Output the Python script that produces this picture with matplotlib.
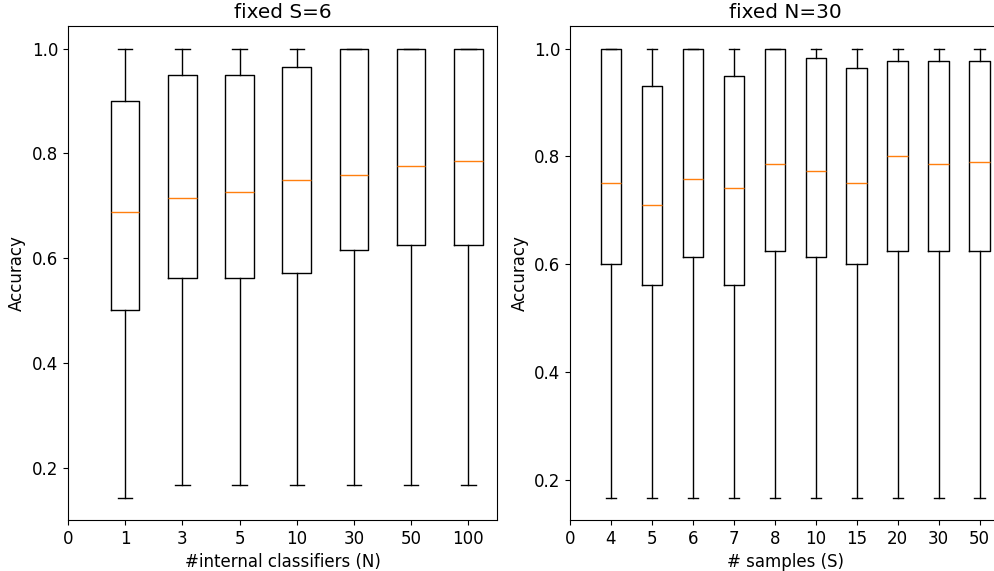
import matplotlib
matplotlib.use("Agg")
import matplotlib.pyplot as plt

# accuracy summary per setting (whisker low, q1, median, q3, whisker high)
n_labels = ['1', '3', '5', '10', '30', '50', '100']
n_whislo = [1/7, 1/6, 1/6, 1/6, 1/6, 1/6, 1/6]
n_q1 = [0.5, 0.5625, 0.5625, 0.572, 0.6146, 0.625, 0.625]
n_med = [0.688, 0.714, 0.727, 0.75, 0.758, 0.775, 0.786]
n_q3 = [0.9, 0.95, 0.95, 0.964, 1.0, 1.0, 1.0]
n_whishi = [1.0, 1.0, 1.0, 1.0, 1.0, 1.0, 1.0]

s_labels = ['4', '5', '6', '7', '8', '10', '15', '20', '30', '50']
s_whislo = [1/6] * 10
s_q1 = [0.6, 0.5616, 0.613, 0.5616, 0.625, 0.613, 0.6, 0.625, 0.625, 0.625]
s_med = [0.75, 0.709, 0.757, 0.741, 0.785, 0.773, 0.75, 0.8, 0.785, 0.789]
s_q3 = [1.0, 0.931, 1.0, 0.949, 1.0, 0.983, 0.963, 0.977, 0.977, 0.977]
s_whishi = [1.0] * 10


def make_stats(lo, q1, med, q3, hi):
    return [dict(whislo=a, q1=b, med=c, q3=d, whishi=e, fliers=[])
            for a, b, c, d, e in zip(lo, q1, med, q3, hi)]


plt.rcParams['font.size'] = 12

fig = plt.figure(figsize=(9.95, 5.71), dpi=100)
ax1 = fig.add_axes([0.0683, 0.0893, 0.4312, 0.865])
ax2 = fig.add_axes([0.5729, 0.0893, 0.4322, 0.865])

ax1.bxp(make_stats(n_whislo, n_q1, n_med, n_q3, n_whishi))
ax1.set_xticks(range(len(n_labels) + 1), ['0'] + n_labels)
ax1.set_xlim(0, len(n_labels) + 0.5)
ax1.set_xlabel('#internal classifiers (N)')
ax1.set_ylabel('Accuracy')
ax1.set_title('fixed S=6')

ax2.bxp(make_stats(s_whislo, s_q1, s_med, s_q3, s_whishi))
ax2.set_xticks(range(len(s_labels) + 1), ['0'] + s_labels)
ax2.set_xlim(0, len(s_labels) + 0.5)
ax2.set_xlabel('# samples (S)')
ax2.set_ylabel('Accuracy')
ax2.set_title('fixed N=30')

for ax in (ax1, ax2):
    ax.set_yticks([0.2, 0.4, 0.6, 0.8, 1.0])

fig.savefig('out.png', dpi=100)
